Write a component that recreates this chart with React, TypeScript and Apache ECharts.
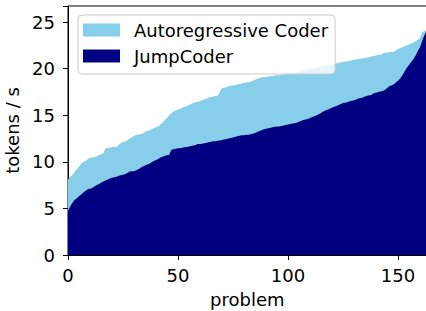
import React, { useEffect, useRef } from "react";
import * as echarts from "echarts";

const seriesNames = ["Autoregressive Coder", "JumpCoder"];
const xTicks = [0, 50, 100, 150];
const yTicks = [0, 5, 10, 15, 20, 25];

const autoregressive = [
  8.1, 8.4, 8.6, 8.9, 9.2, 9.5, 9.8, 10.0, 10.1, 10.3,
  10.4, 10.5, 10.5, 10.6, 10.7, 10.8, 10.9, 11.4, 11.5, 11.5,
  11.6, 11.6, 11.6, 11.8, 12.0, 12.1, 12.2, 12.3, 12.5, 12.6,
  12.8, 12.9, 12.9, 13.0, 13.05, 13.2, 13.3, 13.4, 13.5, 13.6,
  13.7, 13.8, 14.0, 14.2, 14.5, 14.7, 15.0, 15.2, 15.4, 15.5,
  15.6, 15.7, 15.8, 15.9, 16.0, 16.1, 16.2, 16.3, 16.4, 16.45,
  16.5, 16.6, 16.7, 16.8, 16.9, 16.95, 17.0, 17.05, 17.1, 17.5,
  17.9, 17.95, 18.0, 18.1, 18.15, 18.2, 18.25, 18.3, 18.35, 18.4,
  18.45, 18.5, 18.55, 18.6, 18.7, 18.8, 18.9, 19.0, 19.05, 19.1,
  19.1, 19.15, 19.2, 19.2, 19.25, 19.3, 19.3, 19.35, 19.4, 19.4,
  19.45, 19.5, 19.5, 19.55, 19.6, 19.65, 19.7, 19.8, 19.85, 19.9,
  19.95, 20.0, 20.05, 20.1, 20.15, 20.2, 20.25, 20.3, 20.35, 20.4,
  20.45, 20.5, 20.55, 20.6, 20.65, 20.7, 20.75, 20.8, 20.85, 20.9,
  20.95, 21.0, 21.0, 21.05, 21.1, 21.15, 21.2, 21.25, 21.3, 21.35,
  21.4, 21.45, 21.5, 21.6, 21.7, 21.7, 21.75, 21.8, 21.8, 21.95,
  22.1, 22.2, 22.3, 22.4, 22.5, 22.6, 22.7, 22.8, 22.95, 23.1,
  23.3, 23.9, 24.0, 24.2,
];

const jumpCoder = [
  4.7, 5.2, 5.6, 5.9, 6.1, 6.3, 6.5, 6.7, 6.9, 7.05,
  7.1, 7.2, 7.35, 7.5, 7.6, 7.75, 7.9, 8.0, 8.1, 8.2,
  8.3, 8.35, 8.4, 8.5, 8.55, 8.6, 8.7, 8.8, 8.95, 9.0,
  9.0, 9.1, 9.2, 9.35, 9.5, 9.6, 9.7, 9.8, 9.95, 10.1,
  10.2, 10.3, 10.45, 10.55, 10.65, 10.7, 10.75, 11.3, 11.35, 11.4,
  11.45, 11.45, 11.5, 11.55, 11.6, 11.65, 11.7, 11.75, 11.8, 11.9,
  11.9, 11.95, 12.0, 12.05, 12.1, 12.15, 12.2, 12.2, 12.25, 12.3,
  12.35, 12.4, 12.45, 12.5, 12.55, 12.6, 12.7, 12.75, 12.8, 12.85,
  12.85, 12.9, 12.9, 12.95, 13.0, 13.1, 13.2, 13.3, 13.4, 13.5,
  13.55, 13.6, 13.65, 13.7, 13.75, 13.8, 13.8, 13.85, 13.9, 13.95,
  14.0, 14.05, 14.1, 14.15, 14.2, 14.3, 14.4, 14.5, 14.55, 14.6,
  14.7, 14.8, 14.9, 15.0, 15.1, 15.25, 15.4, 15.5, 15.6, 15.7,
  15.8, 15.9, 16.0, 16.1, 16.2, 16.3, 16.35, 16.4, 16.5, 16.55,
  16.6, 16.7, 16.8, 16.85, 16.9, 17.0, 17.1, 17.15, 17.2, 17.35,
  17.4, 17.5, 17.55, 17.6, 17.7, 17.9, 18.1, 18.2, 18.3, 18.5,
  18.7, 18.95, 19.3, 19.7, 20.1, 20.4, 20.7, 21.0, 21.4, 21.9,
  22.3, 23.0, 23.6, 24.0,
];

const colors = ["#87CEEB", "#000080"];
const FONT = "DejaVu Sans";
const FS = 18;

export default function App() {
  const ref = useRef<HTMLDivElement>(null);
  useEffect(() => {
    document.body.style.margin = "0";
    if (!ref.current) return;
    const chart = echarts.init(ref.current, undefined, { renderer: "svg" });
    const toPairs = (arr: number[]) => arr.map((v, i) => [i, v]);
    const xMax = autoregressive.length - 1;
    chart.setOption({
      animation: false,
      textStyle: { fontFamily: FONT },
      grid: {
        left: 68,
        top: 6,
        width: 358.6,
        height: 249,
        containLabel: false,
        outerBoundsMode: "none",
        show: true,
        borderColor: "#000",
        borderWidth: 1,
        backgroundColor: "transparent",
      },
      legend: {
        orient: "vertical",
        left: 78,
        top: 15,
        icon: "rect",
        itemWidth: 37,
        itemHeight: 13,
        itemGap: 6,
        padding: [5, 7, 8, 5],
        backgroundColor: "rgba(255,255,255,0.8)",
        borderColor: "#cccccc",
        borderWidth: 1,
        borderRadius: 4,
        selectedMode: false,
        data: seriesNames,
        itemStyle: { borderWidth: 0 },
        lineStyle: { width: 0 },
        textStyle: {
          fontFamily: FONT,
          fontSize: FS,
          color: "#000",
          lineHeight: 20,
          padding: [0, 0, 0, 9],
        },
      },
      xAxis: {
        type: "value",
        min: 0,
        max: xMax,
        interval: 50,
        name: "problem",
        nameLocation: "middle",
        nameGap: 35,
        nameTextStyle: { fontFamily: FONT, fontSize: FS, color: "#000" },
        axisLine: { show: true, lineStyle: { color: "#000", width: 1 } },
        axisTick: { show: true, length: 5, lineStyle: { color: "#000" } },
        axisLabel: {
          fontFamily: FONT,
          fontSize: FS,
          color: "#000",
          margin: 11,
          customValues: xTicks,
        },
        splitLine: { show: false },
      },
      yAxis: {
        type: "value",
        min: 0,
        max: 26.72,
        interval: 5,
        name: "tokens / s",
        nameLocation: "middle",
        nameGap: 42,
        nameTextStyle: { fontFamily: FONT, fontSize: FS, color: "#000" },
        axisLine: { show: true, lineStyle: { color: "#000", width: 1 } },
        axisTick: { show: true, length: 5, lineStyle: { color: "#000" } },
        axisLabel: {
          fontFamily: FONT,
          fontSize: FS,
          color: "#000",
          margin: 13,
          customValues: yTicks,
        },
        splitLine: { show: false },
      },
      series: [
        {
          name: seriesNames[0],
          type: "line",
          data: toPairs(autoregressive),
          showSymbol: false,
          symbol: "none",
          color: colors[0],
          itemStyle: { color: colors[0] },
          lineStyle: { width: 0, color: colors[0] },
          areaStyle: { color: colors[0], opacity: 1 },
          z: 1,
        },
        {
          name: seriesNames[1],
          type: "line",
          data: toPairs(jumpCoder),
          showSymbol: false,
          symbol: "none",
          color: colors[1],
          itemStyle: { color: colors[1] },
          lineStyle: { width: 0, color: colors[1] },
          areaStyle: { color: colors[1], opacity: 1 },
          z: 2,
        },
      ],
    });
    return () => chart.dispose();
  }, []);
  return <div ref={ref} style={{ width: 426, height: 311 }} />;
}
